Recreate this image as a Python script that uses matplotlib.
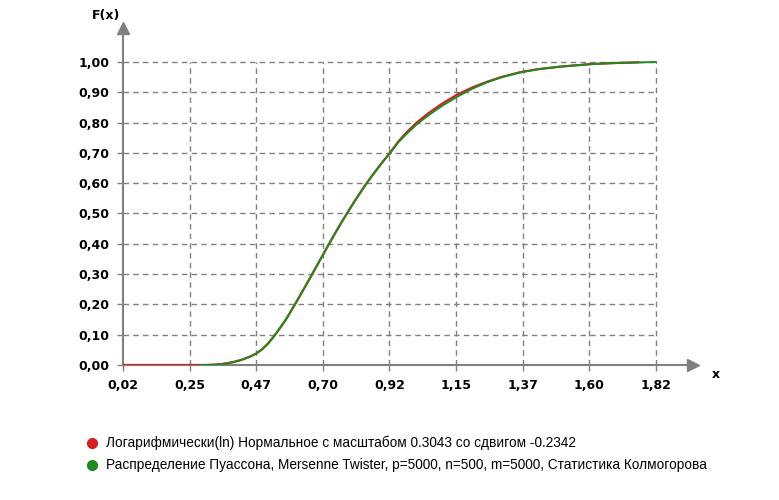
import matplotlib
matplotlib.use('Agg')
import matplotlib.pyplot as plt

# Значения
x_red = [0.02, 0.10, 0.20, 0.28, 0.30, 0.33, 0.36, 0.39, 0.42, 0.45, 0.47, 0.49, 0.51, 0.53,
         0.55, 0.57, 0.58, 0.60, 0.62, 0.64, 0.66, 0.68, 0.70, 0.72, 0.74, 0.76, 0.78, 0.80,
         0.82, 0.84, 0.86, 0.88, 0.90, 0.92, 0.95, 0.98, 1.013, 1.05, 1.10, 1.15, 1.20, 1.25,
         1.30, 1.36, 1.42, 1.50, 1.55, 1.60, 1.66, 1.76]
f_red = [0.0, 0.0, 0.0, 0.0, 0.0, 0.001, 0.004, 0.009, 0.017, 0.028, 0.038, 0.052, 0.071, 0.095,
         0.122, 0.150, 0.166, 0.199, 0.233, 0.267, 0.302, 0.337, 0.372, 0.407, 0.441, 0.474,
         0.506, 0.537, 0.567, 0.596, 0.623, 0.649, 0.674, 0.698, 0.738, 0.770, 0.801, 0.830,
         0.864, 0.893, 0.916, 0.935, 0.951, 0.966, 0.976, 0.985, 0.989, 0.993, 0.996, 0.999]

x_green = [0.28, 0.30, 0.33, 0.36, 0.39, 0.42, 0.45, 0.47, 0.49, 0.51, 0.53, 0.55, 0.57, 0.58,
           0.60, 0.62, 0.64, 0.66, 0.68, 0.70, 0.72, 0.74, 0.76, 0.78, 0.80, 0.82, 0.84, 0.86,
           0.88, 0.90, 0.92, 0.95, 0.98, 1.013, 1.05, 1.10, 1.15, 1.20, 1.25, 1.30, 1.36, 1.42,
           1.50, 1.55, 1.60, 1.70, 1.82]
f_green = [0.0, 0.0, 0.001, 0.004, 0.009, 0.017, 0.028, 0.038, 0.052, 0.071, 0.095, 0.122,
           0.150, 0.166, 0.199, 0.233, 0.267, 0.302, 0.337, 0.372, 0.407, 0.441, 0.474, 0.506,
           0.537, 0.567, 0.596, 0.623, 0.649, 0.674, 0.697, 0.735, 0.765, 0.795, 0.823, 0.857,
           0.886, 0.912, 0.933, 0.950, 0.965, 0.976, 0.985, 0.989, 0.993, 0.997, 1.0]

x_ticks = [0.02, 0.245, 0.47, 0.695, 0.92, 1.145, 1.37, 1.595, 1.82]
x_labels = ['0,02', '0,25', '0,47', '0,70', '0,92', '1,15', '1,37', '1,60', '1,82']
y_ticks = [0.0, 0.1, 0.2, 0.3, 0.4, 0.5, 0.6, 0.7, 0.8, 0.9, 1.0]
y_labels = ['0,00', '0,10', '0,20', '0,30', '0,40', '0,50', '0,60', '0,70', '0,80', '0,90', '1,00']

legend_red = 'Логарифмически(ln) Нормальное с масштабом 0.3043 со сдвигом -0.2342'
legend_green = 'Распределение Пуассона, Mersenne Twister, p=5000, n=500, m=5000, Статистика Колмогорова'

axis_col = '#808080'
red = '#d42020'
green = '#1f8a1f'

fig = plt.figure(figsize=(7.79, 5.0), dpi=100)
ax = fig.add_axes([0.158, 0.27, 0.7317, 0.674])

x_max = 0.02 + 570 / 296
y_max = 337 / 303
ax.set_xlim(0.02, x_max)
ax.set_ylim(0, y_max)

# сетка только до последних делений
for xv in x_ticks[1:]:
    ax.plot([xv, xv], [0, 1.0], color=axis_col, lw=1, ls=(0, (4, 3)), zorder=1)
for yv in y_ticks[1:]:
    ax.plot([0.02, 1.82], [yv, yv], color=axis_col, lw=1, ls=(0, (4, 3)), zorder=1)

ax.plot(x_red, f_red, color=red, lw=1.6, zorder=3)
ax.plot(x_green, f_green, color=green, lw=1.4, zorder=4)

for s in ['top', 'right']:
    ax.spines[s].set_visible(False)
for s in ['left', 'bottom']:
    ax.spines[s].set_color(axis_col)
    ax.spines[s].set_linewidth(1.5)

# стрелки на концах осей
ax.plot(1, 0, '>', color=axis_col, ms=8, transform=ax.transAxes, clip_on=False)
ax.plot(0, 1, '^', color=axis_col, ms=8, transform=ax.transAxes, clip_on=False)

ax.set_xticks(x_ticks)
ax.set_xticklabels(x_labels, fontsize=9, fontweight='bold')
ax.set_yticks(y_ticks)
ax.set_yticklabels(y_labels, fontsize=9, fontweight='bold')
ax.tick_params(colors=axis_col, labelcolor='black', length=4, width=1, pad=6)

fig.text(0.118, 0.968, 'F(x)', fontsize=9, fontweight='bold', ha='left', va='center')
fig.text(0.914, 0.25, 'x', fontsize=9, fontweight='bold', ha='left', va='center')

# легенда
fig.lines.append(plt.Line2D([0.118], [0.114], marker='o', ms=7, color=red, transform=fig.transFigure))
fig.text(0.136, 0.114, legend_red, fontsize=9.8, family='Liberation Sans', ha='left', va='center')
fig.lines.append(plt.Line2D([0.118], [0.07], marker='o', ms=7, color=green, transform=fig.transFigure))
fig.text(0.136, 0.07, legend_green, fontsize=9.8, family='Liberation Sans', ha='left', va='center')

fig.savefig('out.png', dpi=100)
